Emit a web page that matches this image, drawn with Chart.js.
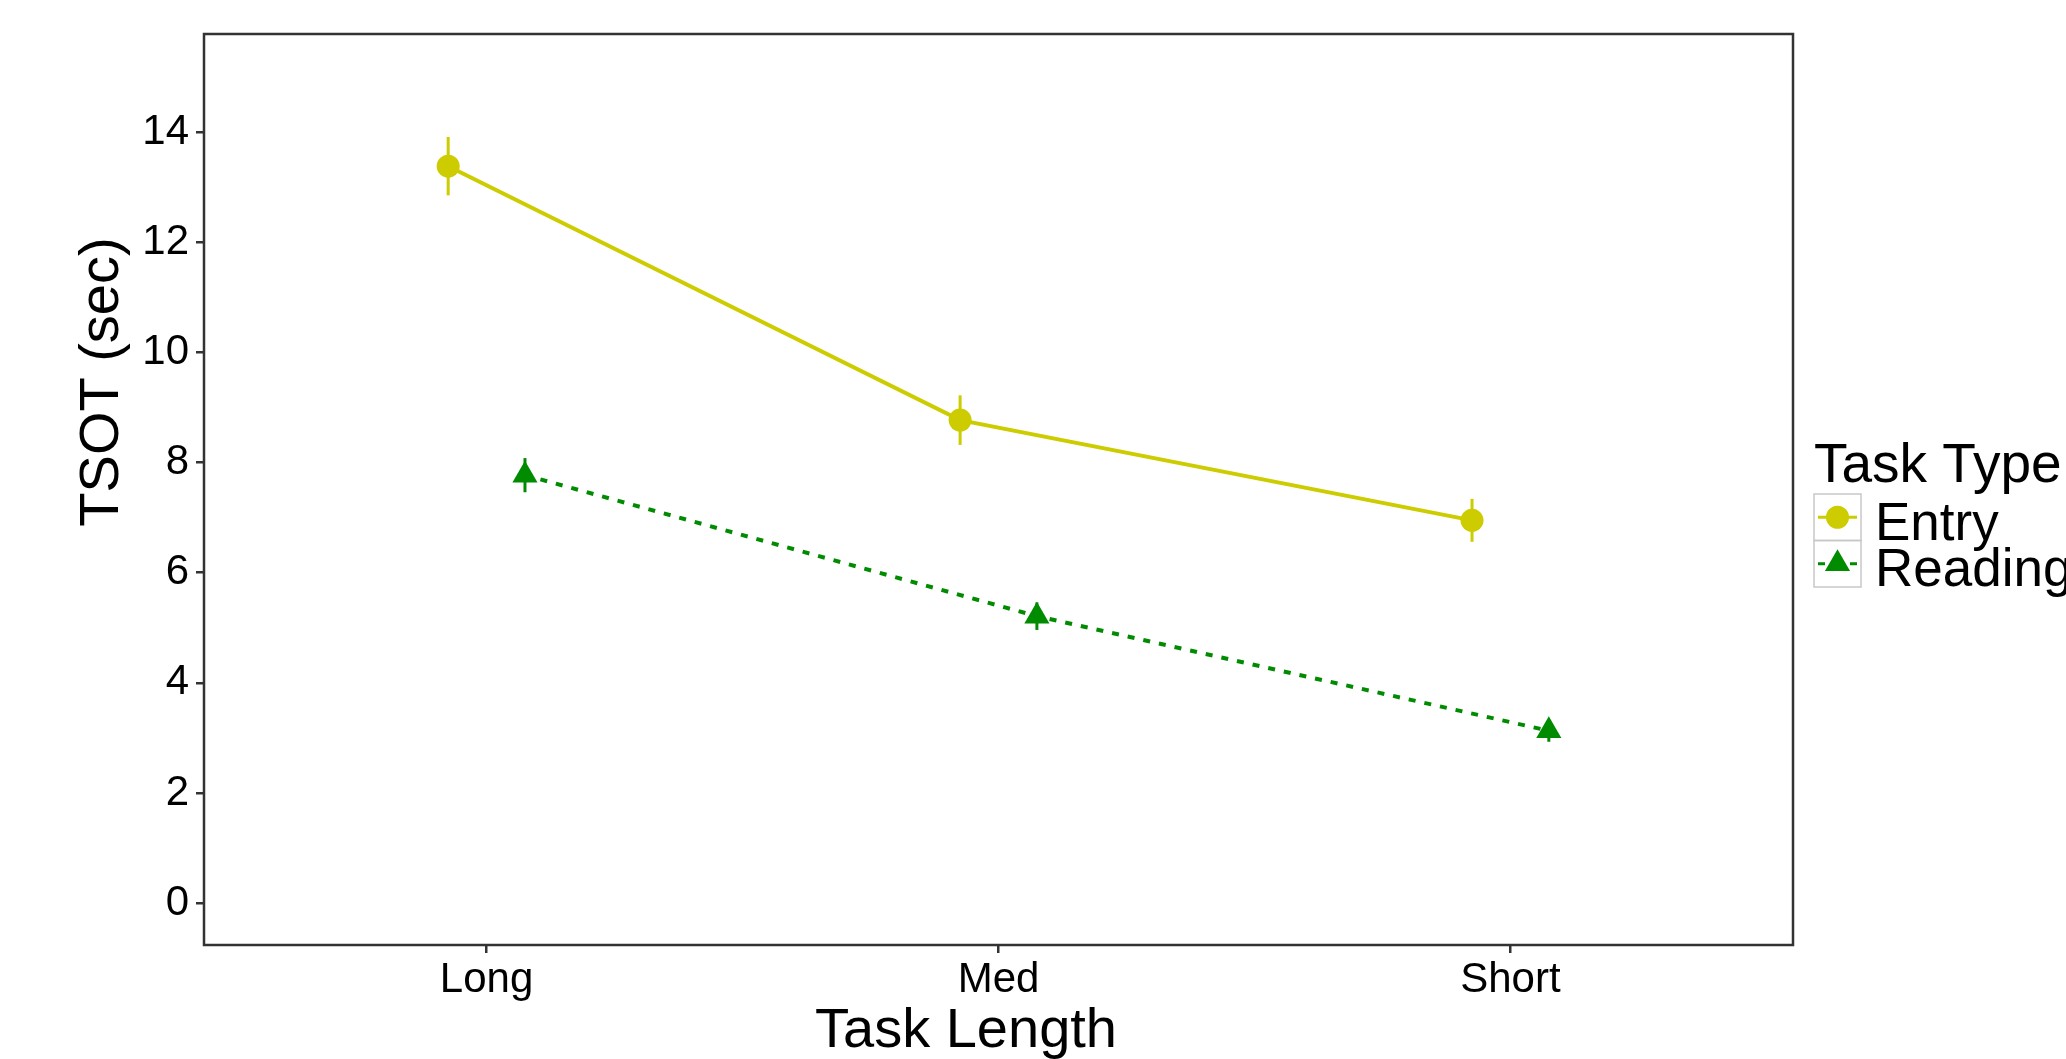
<!DOCTYPE html>
<html>
<head>
<meta charset="utf-8">
<script src="https://cdn.jsdelivr.net/npm/chart.js@4/dist/chart.umd.min.js"></script>
<style>
  html, body { margin: 0; padding: 0; background: #fff; overflow: hidden; }
  #wrap { width: 2066px; height: 1059px; position: relative; }
</style>
</head>
<body>
<div id="wrap"><canvas id="c" width="2066" height="1059"></canvas></div>
<script>
// Task length categories and mean TSOT (sec) with standard errors per task type
const categories = ['Long', 'Med', 'Short'];
const entryMean = [13.38, 8.77, 6.95];
const entryErr = [0.53, 0.45, 0.39];
const readingMean = [7.77, 5.21, 3.13];
const readingErr = [0.31, 0.25, 0.20];
const yTicks = [0, 2, 4, 6, 8, 10, 12, 14];
const seriesNames = ['Entry', 'Reading'];

const FONT = "'Liberation Sans', Arial, Helvetica, sans-serif";
const ENTRY_COLOR = '#CCCC00';
const READING_COLOR = '#008B00';
const FRAME_COLOR = '#333333';
const DODGE = 0.075; // horizontal dodge between the two task types

const entryPoints = categories.map((c, i) => ({ x: i - DODGE, y: entryMean[i], err: entryErr[i] }));
const readingPoints = categories.map((c, i) => ({ x: i + DODGE, y: readingMean[i], err: readingErr[i] }));

// error bars, panel frame, axis titles and legend
const decorations = {
  id: 'decorations',
  beforeDatasetsDraw(chart) {
    const ctx = chart.ctx;
    const xs = chart.scales.x, ys = chart.scales.y;
    ctx.save();
    chart.data.datasets.forEach(ds => {
      ctx.strokeStyle = ds.borderColor;
      ctx.lineWidth = 3;
      ds.data.forEach(p => {
        const px = xs.getPixelForValue(p.x);
        ctx.beginPath();
        ctx.moveTo(px, ys.getPixelForValue(p.y + p.err));
        ctx.lineTo(px, ys.getPixelForValue(p.y - p.err));
        ctx.stroke();
      });
    });
    ctx.restore();
  },
  afterDraw(chart) {
    const ctx = chart.ctx;
    const a = chart.chartArea;
    ctx.save();
    // panel border
    ctx.strokeStyle = FRAME_COLOR;
    ctx.lineWidth = 2.5;
    ctx.strokeRect(a.left, a.top, a.right - a.left, a.bottom - a.top);

    // axis titles
    ctx.fillStyle = '#000';
    ctx.font = `56px ${FONT}`;
    ctx.textAlign = 'center';
    ctx.textBaseline = 'alphabetic';
    ctx.fillText('Task Length', 966, 1047);
    ctx.save();
    ctx.translate(118, 382);
    ctx.rotate(-Math.PI / 2);
    ctx.fillText('TSOT (sec)', 0, 0);
    ctx.restore();

    // legend
    const lx = a.right + 21;
    ctx.textAlign = 'left';
    ctx.font = `55px ${FONT}`;
    ctx.fillText('Task Type', lx, 482);
    const keyW = 47, keyH = 46.5, keyTop = 494;
    chart.data.datasets.forEach((ds, i) => {
      const top = keyTop + i * keyH;
      const cx = lx + keyW / 2, cy = top + keyH / 2;
      ctx.strokeStyle = '#C8C8C8';
      ctx.lineWidth = 1.5;
      ctx.strokeRect(lx, top, keyW, keyH);
      ctx.strokeStyle = ds.borderColor;
      ctx.lineWidth = 3;
      ctx.setLineDash(ds.borderDash || []);
      ctx.beginPath();
      ctx.moveTo(lx + 4, cy);
      ctx.lineTo(lx + keyW - 4, cy);
      ctx.stroke();
      ctx.setLineDash([]);
      ctx.fillStyle = ds.backgroundColor;
      ctx.beginPath();
      if (ds.pointStyle === 'triangle') {
        const r = ds.pointRadius;
        ctx.moveTo(cx, cy - r);
        ctx.lineTo(cx + r * Math.sin(2 * Math.PI / 3), cy + r / 2);
        ctx.lineTo(cx - r * Math.sin(2 * Math.PI / 3), cy + r / 2);
        ctx.closePath();
      } else {
        ctx.arc(cx, cy, ds.pointRadius, 0, Math.PI * 2);
      }
      ctx.fill();
      ctx.fillStyle = '#000';
      ctx.font = `53px ${FONT}`;
      ctx.fillText(ds.label, lx + keyW + 14, top + keyH - 1);
    });
    ctx.restore();
  }
};

new Chart(document.getElementById('c'), {
  type: 'line',
  data: {
    datasets: [
      {
        label: seriesNames[0],
        data: entryPoints,
        borderColor: ENTRY_COLOR,
        backgroundColor: ENTRY_COLOR,
        borderWidth: 4,
        pointStyle: 'circle',
        pointRadius: 11.5,
        pointBorderWidth: 0,
        pointBackgroundColor: ENTRY_COLOR,
        tension: 0,
        clip: false
      },
      {
        label: seriesNames[1],
        data: readingPoints,
        borderColor: READING_COLOR,
        backgroundColor: READING_COLOR,
        borderWidth: 4,
        borderDash: [7, 9],
        pointStyle: 'triangle',
        pointRadius: 14.5,
        pointBorderWidth: 0,
        pointBackgroundColor: READING_COLOR,
        tension: 0,
        clip: false
      }
    ]
  },
  options: {
    responsive: false,
    animation: false,
    devicePixelRatio: 1,
    parsing: { xAxisKey: 'x', yAxisKey: 'y' },
    layout: { padding: { top: 34, right: 273, left: 0, bottom: 0 } },
    plugins: { legend: { display: false }, tooltip: { enabled: false } },
    scales: {
      x: {
        type: 'linear',
        min: -0.552,
        max: 2.552,
        afterBuildTicks: s => { s.ticks = categories.map((c, i) => ({ value: i })); },
        afterFit: s => { s.height = 114; },
        grid: { display: true, drawOnChartArea: false, drawTicks: true, tickLength: 8, color: FRAME_COLOR, lineWidth: 2.5 },
        border: { display: false },
        ticks: {
          autoSkip: false,
          maxRotation: 0,
          padding: 2,
          color: '#000',
          font: { family: FONT, size: 42 },
          callback: v => categories[v]
        }
      },
      y: {
        min: -0.76,
        max: 15.78,
        afterBuildTicks: s => { s.ticks = yTicks.map(v => ({ value: v })); },
        afterFit: s => { s.width = 204; },
        grid: { display: true, drawOnChartArea: false, drawTicks: true, tickLength: 8, color: FRAME_COLOR, lineWidth: 2.5 },
        border: { display: false },
        ticks: {
          padding: 7,
          color: '#000',
          font: { family: FONT, size: 42 },
          callback: v => String(v)
        }
      }
    }
  },
  plugins: [decorations]
});
</script>
</body>
</html>
